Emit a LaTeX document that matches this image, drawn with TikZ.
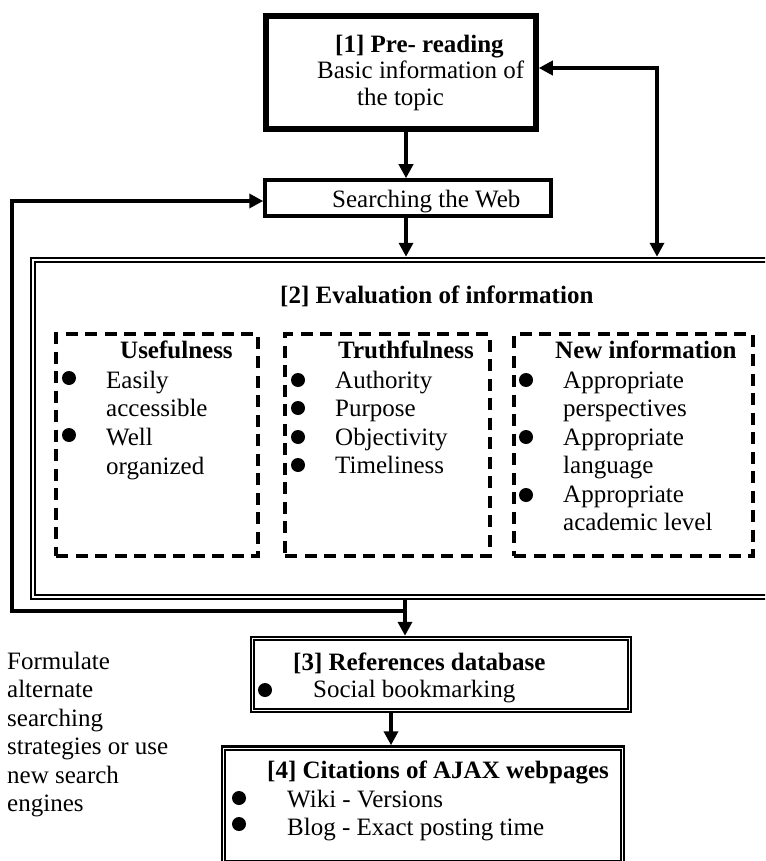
\documentclass[tikz,border=0pt]{standalone}
\usepackage{fontspec}
\setmainfont{Liberation Serif}
\usetikzlibrary{arrows.meta,calc}

\begin{document}
\begin{tikzpicture}[x=1pt,y=-1pt,
  >={Triangle[length=14pt,width=14pt]},
  % multi-line nodes: the base anchor sits on the last line
  txt/.style={inner sep=0pt, anchor=base west, align=left, font=\fontsize{25}{28.5}\selectfont},
  hd/.style={txt, font=\fontsize{25}{28.5}\selectfont\bfseries},
  frame/.style={draw, line width=#1, inner sep=0pt},
  frame/.default=2.5pt,
  inner line/.style={line width=1.6pt},
  dbox/.style={draw, line width=3.5pt, dash pattern=on 12pt off 7.5pt, inner sep=0pt},
  conn/.style={line width=3.5pt, ->},
  dot/.style={circle, fill, inner sep=0pt, minimum size=14pt},
]
\useasboundingbox (0,0) rectangle (765,861);
\clip (0,0) rectangle (765,861);

% ---- boxes ----
\node[frame=3.5pt, minimum width=272pt, minimum height=115pt] (pre) at (401,72.5) {};
\draw[inner line] ($(pre.north west)+(5,5)$) rectangle ($(pre.south east)+(-5,-5)$);

\node[frame=3.5pt, minimum width=286pt, minimum height=36pt] (srch) at (408,198) {};

\node[frame, minimum width=759pt, minimum height=341pt] (ev) at (410.5,428.5) {};
\draw[inner line] ($(ev.north west)+(5,5)$) rectangle ($(ev.south east)+(-5,-5)$);

\node[dbox, minimum width=202pt, minimum height=222pt] (use) at (157,445) {};
\node[dbox, minimum width=205pt, minimum height=222pt] (tru) at (387.5,445) {};
\node[dbox, minimum width=239pt, minimum height=222pt] (new) at (633.5,445) {};

\node[frame, minimum width=380pt, minimum height=75pt] (refs) at (441,674.5) {};
\draw[inner line] ($(refs.north west)+(4.5,4.5)$) rectangle ($(refs.south east)+(-4.5,-4.5)$);

\node[frame, minimum width=402pt, minimum height=117.5pt] (cite) at (423,805.25) {};
\draw[inner line] ($(cite.north west)+(4.5,4.5)$) rectangle ($(cite.south east)+(-4.5,-4.5)$);

% ---- connectors ----
\draw[conn] ([xshift=5pt]pre.south) -- ([xshift=5pt]pre.south |- srch.north);
\draw[conn] ([xshift=-2pt]srch.south) -- ([xshift=-2pt]srch.south |- ev.north);

\coordinate (fb) at (657,68);
\draw[line width=3.5pt, <->] (pre.east |- fb) -- (fb) -- (fb |- ev.north);

\coordinate (jn) at (405,611);
\coordinate (lc) at (12,611);
\coordinate (uc) at (12,201);
\draw[conn] (ev.south -| jn) -- (refs.north -| jn);
\draw[conn] (jn) -- (lc) -- (uc) -- (srch.west |- uc);

\draw[conn] ([xshift=-50pt]refs.south) -- ([xshift=-50pt]refs.south |- cite.north);

% ---- texts ----
\node[hd]  (t1)  at (335,53)  {[1] Pre- reading};
\node[txt] (t1a) at (317,79)  {Basic information of};
\node[txt] (t1b) at (357,106) {the topic};

\node[txt] (tsrch) at (332,207) {Searching the Web};

\node[hd] (tev) at (280,303) {[2] Evaluation of information};

\node[hd]  (tuse) at (120,358) {Usefulness};
\node[dot] (ub1) at (69,378) {};
\node[txt] (u1) at (106,416.5) {Easily\\accessible};
\node[dot] (ub2) at (69,435) {};
\node[txt] (u2) at (106,474) {Well\\organized};

\node[hd]  (ttru) at (338,358) {Truthfulness};
\node[dot] (tb1) at (298,380) {};
\node[txt] (tr1) at (335,388) {Authority};
\node[dot] (tb2) at (298,408) {};
\node[txt] (tr2) at (335,416.5) {Purpose};
\node[dot] (tb3) at (298,437) {};
\node[txt] (tr3) at (335,445) {Objectivity};
\node[dot] (tb4) at (298,465) {};
\node[txt] (tr4) at (335,473.5) {Timeliness};

\node[hd]  (tnew) at (555,358) {New information};
\node[dot] (nb1) at (526,380) {};
\node[txt] (n1) at (563,416.5) {Appropriate\\perspectives};
\node[dot] (nb2) at (526,437) {};
\node[txt] (n2) at (563,473.5) {Appropriate\\language};
\node[dot] (nb3) at (526,495) {};
\node[txt] (n3) at (563,530.5) {Appropriate\\academic level};

\node[hd]  (tref) at (293,670) {[3] References database};
\node[dot] (rb1) at (265,690) {};
\node[txt] (r1) at (313,697) {Social bookmarking};

\node[hd]  (tcite) at (267,778) {[4] Citations of AJAX webpages};
\node[dot] (cb1) at (239,798) {};
\node[txt] (c1) at (287,807) {Wiki - Versions};
\node[dot] (cb2) at (239,824) {};
\node[txt] (c2) at (287,835) {Blog - Exact posting time};

\node[txt] (note) at (7,811.5) {Formulate\\alternate\\searching\\strategies or use\\new search\\engines};
\end{tikzpicture}
\end{document}
